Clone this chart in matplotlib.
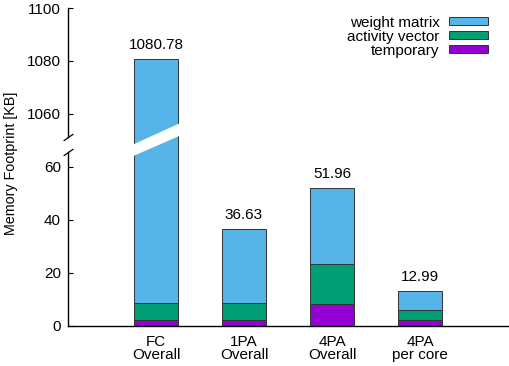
import numpy as np
import matplotlib
matplotlib.use("Agg")
import matplotlib.pyplot as plt
from matplotlib.scale import FuncScale

plt.rcParams.update({
    'font.family': ['Liberation Sans', 'DejaVu Sans'],
    'font.size': 11,
})

# data
categories = ["FC\nOverall", "1PA\nOverall", "4PA\nOverall", "4PA\nper core"]
temporary = [2.05, 2.05, 8.2, 2.05]
activity_vector = [6.4, 6.4, 15.3, 3.83]
weight_matrix = [1072.33, 28.18, 28.46, 7.11]
totals = [1080.78, 36.63, 51.96, 12.99]

colors = {'weight matrix': '#56b4e9', 'activity vector': '#009e73', 'temporary': '#9400d3'}

# broken y axis: 0..B below, T0..1100 above, small gap G between
B, T0, G = 65.5, 1051.2, 5.8


def fwd(y):
    y = np.asarray(y, dtype=float)
    return np.where(y <= B, y,
                    np.where(y >= T0, y - T0 + B + G, B + (y - B) * G / (T0 - B)))


def inv(t):
    t = np.asarray(t, dtype=float)
    return np.where(t <= B, t,
                    np.where(t >= B + G, t - B - G + T0, B + (t - B) * (T0 - B) / G))


fig = plt.figure(figsize=(5.1, 3.66), dpi=100)
ax = fig.add_axes([68 / 510, 1 - 325.7 / 366, 440 / 510, 317.7 / 366])
ax.set_yscale(FuncScale(ax.yaxis, (fwd, inv)))
ax.set_ylim(0, 1100)
ax.set_xlim(0, 5)

x = np.arange(1, len(categories) + 1)
w = 0.5
edge = dict(edgecolor='#333333', linewidth=0.7)
ax.bar(x, temporary, w, color=colors['temporary'], label='temporary', **edge)
bot = np.array(temporary)
ax.bar(x, activity_vector, w, bottom=bot, color=colors['activity vector'], label='activity vector', **edge)
bot = bot + np.array(activity_vector)
ax.bar(x, weight_matrix, w, bottom=bot, color=colors['weight matrix'], label='weight matrix', **edge)

for xi, tot in zip(x, totals):
    ax.annotate(f"{tot:.2f}", (xi, tot), xytext=(0, 5), textcoords='offset points',
                ha='center', va='bottom', fontsize=11)

# white slanted gap through the FC bar
ytr = ax.get_xaxis_transform()
ax.fill([0.73, 0.73, 1.27, 1.27], [0.5351, 0.5666, 0.6349, 0.6003], color='white',
        transform=ytr, zorder=5, clip_on=False)

# spines
for s in ['top', 'right', 'left']:
    ax.spines[s].set_visible(False)
ax.spines['bottom'].set_linewidth(1.0)
yt = ax.get_yaxis_transform()
ax.plot([0, 0], [0, B], color='black', lw=1.0, transform=yt, clip_on=False)
ax.plot([0, 0], [T0, 1100], color='black', lw=1.0, transform=yt, clip_on=False)
slash = [(-1, -0.7), (1, 0.7)]
ax.plot([0, 0], [B, T0], ls='none', marker=slash, markersize=7, markeredgewidth=0.9,
        color='black', transform=yt, clip_on=False)

ax.set_yticks([0, 20, 40, 60, 1060, 1080, 1100])
ax.yaxis.set_minor_locator(matplotlib.ticker.NullLocator())
ax.tick_params(axis='y', direction='in', length=3.5, width=0.8, pad=5, labelsize=11)
ax.set_xticks(x)
ax.set_xticklabels(categories, linespacing=0.95)
ax.tick_params(axis='x', length=0, pad=6.5, labelsize=11)

ax.set_ylabel("Memory Footprint [KB]", fontsize=10.3)
ax.yaxis.set_label_coords(-0.113, 0.51)

handles, labels = ax.get_legend_handles_labels()
ax.legend(handles[::-1], labels[::-1], loc='upper right', bbox_to_anchor=(0.973, 1.0),
          frameon=False, markerfirst=False, borderpad=0, handlelength=2.6,
          handleheight=0.45, handletextpad=0.6, labelspacing=0.0, fontsize=11)

fig.savefig("out.png", dpi=100)
